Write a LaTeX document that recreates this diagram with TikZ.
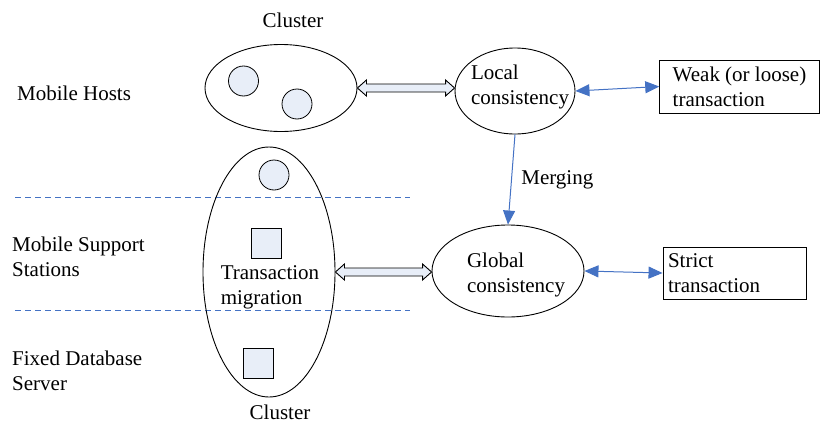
\documentclass[tikz,border=0pt]{standalone}
\usepackage{fontspec}
\setmainfont{Liberation Serif}
\usetikzlibrary{shapes.geometric,arrows.meta,calc}
\definecolor{lblue}{RGB}{232,238,248}
\definecolor{ablue}{RGB}{68,114,196}
\newcommand\hollowarrow[2]{%
  \path[hollowarr] let \p1=(#1), \p2=(#2) in
    (\x1,\y1) -- (\x1+9pt,\y1+8pt) -- (\x1+9pt,\y1+4pt) -- (\x2-9pt,\y1+4pt)
    -- (\x2-9pt,\y1+8pt) -- (\x2,\y1) -- (\x2-9pt,\y1-8pt) -- (\x2-9pt,\y1-4pt)
    -- (\x1+9pt,\y1-4pt) -- (\x1+9pt,\y1-8pt) -- cycle;}
\begin{document}
\begin{tikzpicture}[x=1pt,y=-1pt,
  every node/.style={font=\fontsize{21}{25}\selectfont},
  oval/.style={draw,ellipse,line width=0.9pt,inner sep=0pt},
  dot/.style={draw,circle,fill=lblue,minimum size=30pt,inner sep=0pt,line width=0.8pt},
  sq/.style={draw,rectangle,fill=lblue,minimum size=30pt,inner sep=0pt,line width=0.8pt},
  tbox/.style={draw,rectangle,line width=0.9pt,align=left},
  hollowarr/.style={draw,fill=lblue,line width=0.9pt,line join=miter},
  barr/.style={draw=ablue,line width=1pt,{Triangle[length=14pt,width=12pt]}-{Triangle[length=14pt,width=12pt]}},
  sep/.style={draw=ablue,dashed,dash pattern=on 6pt off 4pt,line width=0.8pt},
  lbl/.style={anchor=west,align=left,inner sep=0pt},
  txt/.style={align=left,inner sep=0pt}]
\useasboundingbox (0,0) rectangle (827,423);
% separators
\coordinate (s1a) at (15,197); \coordinate (s1b) at (410,197);
\coordinate (s2a) at (15,310); \coordinate (s2b) at (410,310);
\draw[sep] (s1a) -- (s1b);
\draw[sep] (s2a) -- (s2b);
% left labels
\node[lbl] (mh) at (17,93) {Mobile Hosts};
\node[lbl] (mss) at (12,257) {Mobile Support\\Stations};
\node[lbl] (fds) at (12,371) {Fixed Database\\Server};
% clusters
\node (ctop) at (293,20) {Cluster};
\node[oval,minimum width=152pt,minimum height=87pt] (cl1) at (281,88) {};
\node[dot] (c1) at (243.5,81) {};
\node[dot] (c2) at (297,104) {};
\node[oval,minimum width=132pt,minimum height=250pt] (cl2) at (269,272) {};
\node[dot] (c3) at (274,175) {};
\node[sq] (q1) at (266.5,243) {};
\node[sq] (q2) at (258.5,363) {};
\node[txt] (tm) at (270,287) {Transaction\\migration};
\node (cbot) at (280,412) {Cluster};
% consistency
\node[oval,minimum width=120pt,minimum height=86pt] (loc) at (515,91) {};
\node[txt] (loct) at (520,87) {Local\\consistency};
\node[oval,minimum width=152pt,minimum height=92pt] (glob) at (508,271) {};
\node[txt] (globt) at (516,275) {Global\\consistency};
% boxes
\node[tbox,inner xsep=13pt,minimum height=53pt] (weak) at (739.5,86.5) {Weak (or loose)\\transaction};
\node[tbox,text width=133pt,inner xsep=5pt,minimum height=52pt] (strict) at (734.5,273) {Strict\\transaction};
% connectors
\hollowarrow{cl1.east}{loc.west}
\hollowarrow{cl2.east}{glob.west}
\draw[barr] (loc.east) -- (weak.west);
\draw[barr] (glob.east) -- (strict.west);
\draw[draw=ablue,line width=1pt,-{Triangle[length=14pt,width=12pt]}] (loc.south) -- node[right=6pt,pos=0.5,text=black] (mg) {Merging} (glob.north);
\end{tikzpicture}
\end{document}
